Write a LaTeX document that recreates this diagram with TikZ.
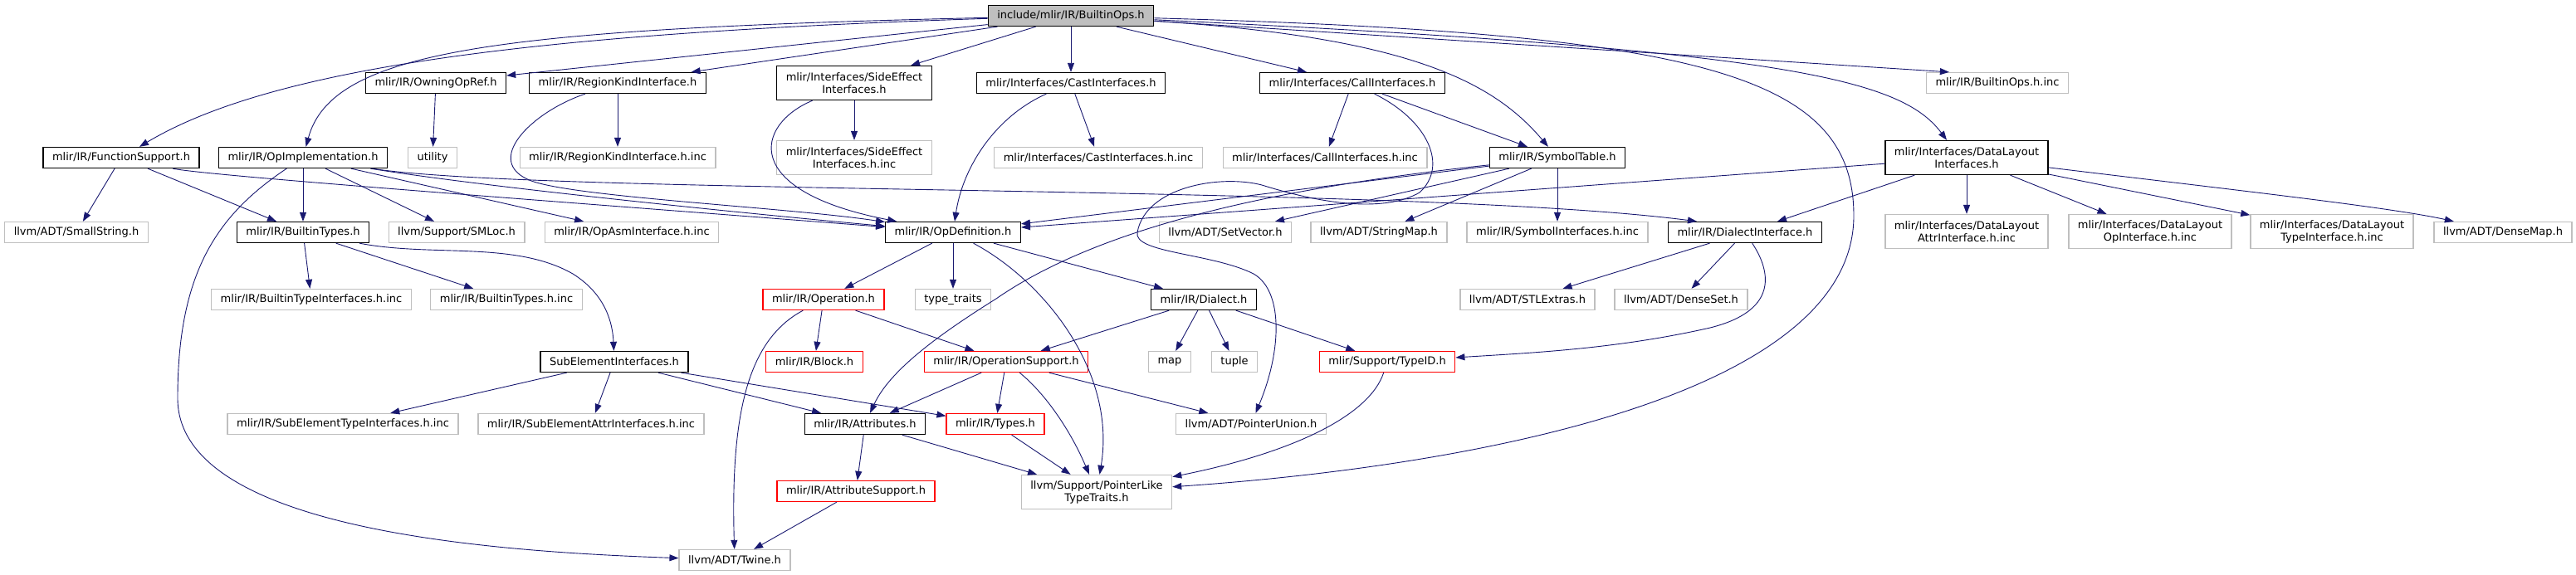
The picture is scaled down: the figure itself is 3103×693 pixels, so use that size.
\documentclass[tikz,border=0pt]{standalone}
\usepackage{fontspec}
\setmainfont{DejaVu Sans}
\usepackage{tikz}
\usepackage{xcolor}
\usetikzlibrary{arrows.meta}
\definecolor{edgeblue}{HTML}{191970}
\definecolor{extgray}{HTML}{BFBFBF}
\definecolor{incred}{HTML}{FF0000}

\begin{document}
\begin{tikzpicture}[x=1pt, y=-1pt,
      every node/.style={font=\fontsize{13}{15}\selectfont, align=center, inner xsep=11pt, inner ysep=0pt, minimum height=25pt},
      hdr/.style={draw=black, line width=1.3pt, fill=white},
      ext/.style={draw=extgray, line width=1.3pt, fill=white},
      redhdr/.style={draw=incred, line width=1.3pt, fill=white},
      rootbox/.style={draw=black, line width=1.3pt, fill=extgray},
      twoline/.style={minimum height=41pt},
      dep/.style={draw=edgeblue, line width=0.9pt, -{Triangle[length=11pt, width=8pt]}}]
    \useasboundingbox (0,0) rectangle (3103,693);
    \node[rootbox] (root) at (1290,19) {include/mlir/IR/BuiltinOps.h};
    \node[hdr] (owning) at (525,100) {mlir/IR/OwningOpRef.h};
    \node[hdr] (regkind) at (744,100) {mlir/IR/RegionKindInterface.h};
    \node[hdr, twoline] (sideeff) at (1029,100) {mlir/Interfaces/SideEffect\\Interfaces.h};
    \node[hdr] (cast) at (1290,100) {mlir/Interfaces/CastInterfaces.h};
    \node[hdr] (call) at (1629,100) {mlir/Interfaces/CallInterfaces.h};
    \node[ext] (opsinc) at (2406,100) {mlir/IR/BuiltinOps.h.inc};
    \node[hdr] (funcsup) at (146,190) {mlir/IR/FunctionSupport.h};
    \node[hdr] (opimpl) at (365,190) {mlir/IR/OpImplementation.h};
    \node[ext] (utility) at (521,190) {utility};
    \node[ext] (regkindinc) at (744,190) {mlir/IR/RegionKindInterface.h.inc};
    \node[ext, twoline] (sideeffinc) at (1029,190) {mlir/Interfaces/SideEffect\\Interfaces.h.inc};
    \node[ext] (castinc) at (1323,190) {mlir/Interfaces/CastInterfaces.h.inc};
    \node[ext] (callinc) at (1596,190) {mlir/Interfaces/CallInterfaces.h.inc};
    \node[hdr] (symtab) at (1876,190) {mlir/IR/SymbolTable.h};
    \node[hdr, twoline] (dlayout) at (2369,190) {mlir/Interfaces/DataLayout\\Interfaces.h};
    \node[ext] (smallstr) at (92,280) {llvm/ADT/SmallString.h};
    \node[hdr] (btypes) at (365,280) {mlir/IR/BuiltinTypes.h};
    \node[ext] (smloc) at (550,280) {llvm/Support/SMLoc.h};
    \node[ext] (opasminc) at (761,280) {mlir/IR/OpAsmInterface.h.inc};
    \node[hdr] (opdef) at (1148,280) {mlir/IR/OpDefinition.h};
    \node[ext] (setvec) at (1476,280) {llvm/ADT/SetVector.h};
    \node[ext] (strmap) at (1661,280) {llvm/ADT/StringMap.h};
    \node[ext] (symifinc) at (1876,280) {mlir/IR/SymbolInterfaces.h.inc};
    \node[hdr] (dialif) at (2102,280) {mlir/IR/DialectInterface.h};
    \node[ext, twoline] (dlattr) at (2369,279) {mlir/Interfaces/DataLayout\\AttrInterface.h.inc};
    \node[ext, twoline] (dlop) at (2590,279) {mlir/Interfaces/DataLayout\\OpInterface.h.inc};
    \node[ext, twoline] (dltype) at (2809,279) {mlir/Interfaces/DataLayout\\TypeInterface.h.inc};
    \node[ext] (densemap) at (3015,280) {llvm/ADT/DenseMap.h};
    \node[ext] (btifinc) at (375,361) {mlir/IR/BuiltinTypeInterfaces.h.inc};
    \node[ext] (btinc) at (610,361) {mlir/IR/BuiltinTypes.h.inc};
    \node[redhdr] (operation) at (992,361) {mlir/IR/Operation.h};
    \node[ext] (typetraits) at (1148,361) {type\_traits};
    \node[hdr] (dialect) at (1450,361) {mlir/IR/Dialect.h};
    \node[ext] (stlextras) at (1840,361) {llvm/ADT/STLExtras.h};
    \node[ext] (denseset) at (2025,361) {llvm/ADT/DenseSet.h};
    \node[hdr] (subelem) at (740,436) {SubElementInterfaces.h};
    \node[redhdr] (block) at (981,436) {mlir/IR/Block.h};
    \node[redhdr] (opsupport) at (1212,436) {mlir/IR/OperationSupport.h};
    \node[ext] (map) at (1409,436) {map};
    \node[ext] (tuple) at (1487,436) {tuple};
    \node[redhdr] (typeid) at (1671,436) {mlir/Support/TypeID.h};
    \node[ext] (subtypeinc) at (413,511) {mlir/IR/SubElementTypeInterfaces.h.inc};
    \node[ext] (subattrinc) at (712,511) {mlir/IR/SubElementAttrInterfaces.h.inc};
    \node[hdr] (attrs) at (1042,511) {mlir/IR/Attributes.h};
    \node[redhdr] (types) at (1199,511) {mlir/IR/Types.h};
    \node[ext] (ptrunion) at (1507,511) {llvm/ADT/PointerUnion.h};
    \node[redhdr] (attrsup) at (1031,592) {mlir/IR/AttributeSupport.h};
    \node[ext, twoline] (ptrlike) at (1321,593) {llvm/Support/PointerLike\\TypeTraits.h};
    \node[ext] (twine) at (885,675) {llvm/ADT/Twine.h};
    \draw[dep] (root) .. controls (650,40) and (330,80) .. (funcsup);
    \draw[dep] (root) .. controls (600,35) and (400,60) .. (opimpl);
    \draw[dep] (root) -- (owning);
    \draw[dep] (root) -- (regkind);
    \draw[dep] (root) -- (sideeff);
    \draw[dep] (root) -- (cast);
    \draw[dep] (root) -- (call);
    \draw[dep] (root) .. controls (1700,45) and (1800,100) .. (symtab);
    \draw[dep] (root) -- ([xshift=28pt]opsinc.north west);
    \draw[dep] (root) .. controls (2150,60) and (2290,95) .. ([xshift=-24pt]dlayout.north);
    \draw[dep] (root) .. controls (2050,40) and (2233,90) .. (2233,260) .. controls (2233,470) and (1800,560) .. (ptrlike);
    \draw[dep] (funcsup) -- (smallstr);
    \draw[dep] (funcsup) -- (btypes);
    \draw[dep] (funcsup) .. controls (250,212) and (700,245) .. (opdef);
    \draw[dep] (opimpl) -- (btypes);
    \draw[dep] (opimpl) -- (smloc);
    \draw[dep] (opimpl) -- (opasminc);
    \draw[dep] (opimpl) .. controls (600,228) and (950,262) .. (opdef);
    \draw[dep] (opimpl) .. controls (650,235) and (1700,222) .. ([xshift=-58pt]dialif.north);
    \draw[dep] (opimpl) .. controls (260,260) and (214,330) .. (214,480) .. controls (214,640) and (600,665) .. (twine);
    \draw[dep] (owning) -- (utility);
    \draw[dep] (regkind) -- (regkindinc);
    \draw[dep] (regkind) .. controls (640,135) and (580,195) .. (640,218) .. controls (695,238) and (950,250) .. (opdef);
    \draw[dep] (sideeff) -- (sideeffinc);
    \draw[dep] (sideeff) .. controls (910,150) and (890,230) .. (opdef);
    \draw[dep] (cast) -- (castinc);
    \draw[dep] (cast) .. controls (1200,140) and (1160,200) .. (opdef);
    \draw[dep] (call) -- (callinc);
    \draw[dep] (call) -- (symtab);
    \draw[dep] (call) .. controls (1720,145) and (1745,200) .. (1710,232) .. controls (1670,255) and (1600,248) .. (1520,223) .. controls (1470,210) and (1380,225) .. (1370,280) .. controls (1365,305) and (1460,305) .. (1510,330) .. controls (1545,350) and (1545,420) .. (ptrunion);
    \draw[dep] (symtab) -- (symifinc);
    \draw[dep] (symtab) -- (strmap);
    \draw[dep] (symtab) -- ([xshift=60pt]setvec.north);
    \draw[dep] (symtab) -- (opdef);
    \draw[dep] (symtab) .. controls (1550,225) and (1330,270) .. (1200,360) .. controls (1120,410) and (1070,450) .. (attrs);
    \draw[dep] (dlayout) -- (dlattr);
    \draw[dep] (dlayout) -- (dlop);
    \draw[dep] (dlayout) -- (dltype);
    \draw[dep] (dlayout) .. controls (2700,230) and (2880,250) .. (densemap);
    \draw[dep] (dlayout) -- (dialif);
    \draw[dep] (dlayout) -- (opdef);
    \draw[dep] (dialif) -- (stlextras);
    \draw[dep] (dialif) -- (denseset);
    \draw[dep] (dialif) .. controls (2135,330) and (2140,375) .. (2060,395) .. controls (1950,420) and (1850,425) .. (typeid);
    \draw[dep] (opdef) -- (operation);
    \draw[dep] (opdef) -- (typetraits);
    \draw[dep] (opdef) -- (dialect);
    \draw[dep] (opdef) .. controls (1260,340) and (1345,450) .. (ptrlike);
    \draw[dep] (btypes) -- (btifinc);
    \draw[dep] (btypes) -- (btinc);
    \draw[dep] (btypes) .. controls (520,310) and (620,290) .. (690,330) .. controls (730,355) and (738,390) .. (subelem);
    \draw[dep] (operation) -- (block);
    \draw[dep] (operation) -- (opsupport);
    \draw[dep] (operation) .. controls (900,410) and (880,500) .. (twine);
    \draw[dep] (dialect) -- (opsupport);
    \draw[dep] (dialect) -- (map);
    \draw[dep] (dialect) -- (tuple);
    \draw[dep] (dialect) -- (typeid);
    \draw[dep] (subelem) -- (subtypeinc);
    \draw[dep] (subelem) -- (subattrinc);
    \draw[dep] (subelem) -- (attrs);
    \draw[dep] (subelem) -- (types);
    \draw[dep] (opsupport) -- (attrs);
    \draw[dep] (opsupport) -- (types);
    \draw[dep] (opsupport) .. controls (1260,475) and (1290,520) .. (ptrlike);
    \draw[dep] (opsupport) -- (ptrunion);
    \draw[dep] (attrs) -- (attrsup);
    \draw[dep] (attrs) -- (ptrlike);
    \draw[dep] (types) -- (ptrlike);
    \draw[dep] (attrsup) -- (twine);
    \draw[dep] (typeid) .. controls (1650,500) and (1560,545) .. (ptrlike);
\end{tikzpicture}
\end{document}
